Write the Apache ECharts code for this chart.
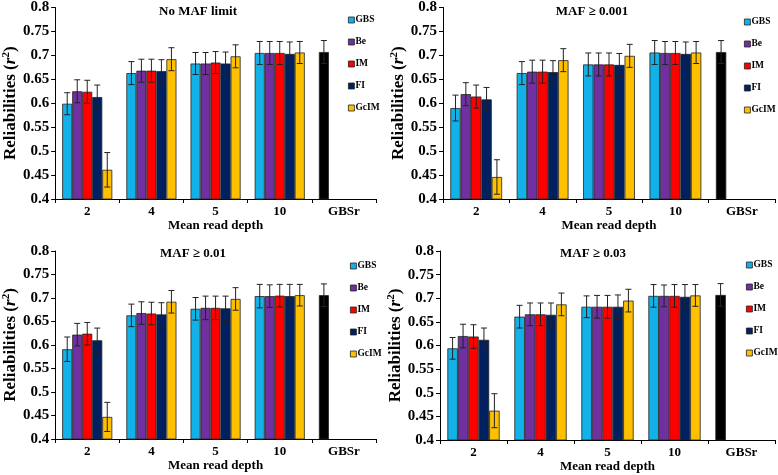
<!DOCTYPE html>
<html>
<head>
<meta charset="utf-8">
<script src="https://cdn.jsdelivr.net/npm/echarts@6/dist/echarts.min.js"></script>
<style>
html,body{margin:0;padding:0;background:#fff;}
#chart{width:778px;height:475px;}
</style>
</head>
<body>
<div id="chart"></div>
<script>
// ---------- data ----------
const categories = ['2', '4', '5', '10', 'GBSr'];
const seriesNames = ['GBS', 'Be', 'IM', 'FI', 'GcIM'];
const panelTitles = ['No MAF limit', 'MAF ≥ 0.001', 'MAF ≥ 0.01', 'MAF ≥ 0.03'];
const yTicks = [0.4, 0.45, 0.5, 0.55, 0.6, 0.65, 0.7, 0.75, 0.8];

// Panel 1: No MAF limit (last GBS value = GBSr)
const p1GBS  = [0.599, 0.663, 0.683, 0.705, 0.707];
const p1Be   = [0.625, 0.668, 0.683, 0.705, null];
const p1IM   = [0.624, 0.668, 0.685, 0.705, null];
const p1FI   = [0.613, 0.667, 0.683, 0.703, null];
const p1GcIM = [0.461, 0.692, 0.698, 0.706, null];
const p1ErrGBS  = [0.023, 0.024, 0.023, 0.024, 0.024];
const p1ErrBe   = [0.024, 0.024, 0.023, 0.024, null];
const p1ErrIM   = [0.024, 0.024, 0.023, 0.024, null];
const p1ErrFI   = [0.025, 0.024, 0.024, 0.025, null];
const p1ErrGcIM = [0.036, 0.024, 0.024, 0.023, null];

// Panel 2: MAF >= 0.001
const p2GBS  = [0.590, 0.663, 0.681, 0.706, 0.707];
const p2Be   = [0.619, 0.666, 0.681, 0.705, null];
const p2IM   = [0.614, 0.666, 0.681, 0.705, null];
const p2FI   = [0.608, 0.665, 0.680, 0.703, null];
const p2GcIM = [0.446, 0.690, 0.699, 0.706, null];
const p2ErrGBS  = [0.027, 0.024, 0.024, 0.025, 0.024];
const p2ErrBe   = [0.024, 0.024, 0.024, 0.024, null];
const p2ErrIM   = [0.024, 0.024, 0.024, 0.024, null];
const p2ErrFI   = [0.025, 0.024, 0.024, 0.025, null];
const p2ErrGcIM = [0.036, 0.024, 0.024, 0.023, null];

// Panel 3: MAF >= 0.01
const p3GBS  = [0.591, 0.663, 0.677, 0.704, 0.706];
const p3Be   = [0.622, 0.668, 0.679, 0.704, null];
const p3IM   = [0.624, 0.667, 0.679, 0.705, null];
const p3FI   = [0.610, 0.665, 0.678, 0.704, null];
const p3GcIM = [0.447, 0.692, 0.698, 0.706, null];
const p3ErrGBS  = [0.026, 0.024, 0.024, 0.025, 0.024];
const p3ErrBe   = [0.024, 0.024, 0.025, 0.024, null];
const p3ErrIM   = [0.024, 0.024, 0.025, 0.024, null];
const p3ErrFI   = [0.026, 0.025, 0.026, 0.025, null];
const p3ErrGcIM = [0.031, 0.024, 0.024, 0.023, null];

// Panel 4: MAF >= 0.03
const p4GBS  = [0.594, 0.661, 0.682, 0.705, 0.707];
const p4Be   = [0.620, 0.666, 0.682, 0.705, null];
const p4IM   = [0.619, 0.666, 0.682, 0.705, null];
const p4FI   = [0.612, 0.665, 0.682, 0.703, null];
const p4GcIM = [0.462, 0.687, 0.695, 0.706, null];
const p4ErrGBS  = [0.023, 0.024, 0.023, 0.024, 0.024];
const p4ErrBe   = [0.025, 0.024, 0.024, 0.023, null];
const p4ErrIM   = [0.025, 0.024, 0.024, 0.024, null];
const p4ErrFI   = [0.025, 0.025, 0.025, 0.026, null];
const p4ErrGcIM = [0.036, 0.024, 0.024, 0.023, null];

const panelValues = [
  [p1GBS, p1Be, p1IM, p1FI, p1GcIM],
  [p2GBS, p2Be, p2IM, p2FI, p2GcIM],
  [p3GBS, p3Be, p3IM, p3FI, p3GcIM],
  [p4GBS, p4Be, p4IM, p4FI, p4GcIM]
];
const panelErrors = [
  [p1ErrGBS, p1ErrBe, p1ErrIM, p1ErrFI, p1ErrGcIM],
  [p2ErrGBS, p2ErrBe, p2ErrIM, p2ErrFI, p2ErrGcIM],
  [p3ErrGBS, p3ErrBe, p3ErrIM, p3ErrFI, p3ErrGcIM],
  [p4ErrGBS, p4ErrBe, p4ErrIM, p4ErrFI, p4ErrGcIM]
];

// ---------- style / layout ----------
const colors = ['#12B2E8', '#7030A0', '#FF0000', '#002060', '#FFC000'];
const gbsrColor = '#000000';
const FONT = '"Liberation Serif", "Times New Roman", serif';
const grids = [
  {left: 48,  top: 7,   width: 328, height: 192},
  {left: 443, top: 7,   width: 332, height: 192},
  {left: 48,  top: 251, width: 328, height: 188},
  {left: 440, top: 251, width: 335, height: 189}
];
const titlePos = [
  {left: 193, top: 0}, {left: 587, top: 0},
  {left: 188, top: 242}, {left: 588, top: 242}
];
const legendPos = [
  {left: 343, top: 10}, {left: 739, top: 12},
  {left: 345, top: 256}, {left: 741, top: 255}
];
const CAT_GAP = 0.22;
const nS = seriesNames.length;

const option = {
  animation: false,
  backgroundColor: '#fff',
  title: [], grid: [], xAxis: [], yAxis: [], legend: [], series: []
};

for (let p = 0; p < 4; p++) {
  option.grid.push(grids[p]);
  option.title.push({
    text: panelTitles[p], left: titlePos[p].left, top: titlePos[p].top,
    textAlign: 'center',
    textStyle: {fontFamily: FONT, fontWeight: 'bold', fontSize: 13, color: '#000'}
  });
  option.xAxis.push({
    type: 'category', gridIndex: p, data: categories,
    name: 'Mean read depth', nameLocation: 'middle', nameGap: 18,
    nameTextStyle: {fontFamily: FONT, fontWeight: 'bold', fontSize: 13, color: '#000'},
    axisLine: {lineStyle: {color: '#000', width: 1}},
    axisTick: {show: true, length: 4, lineStyle: {color: '#000'}},
    axisLabel: {fontFamily: FONT, fontWeight: 'bold', fontSize: 13, color: '#000', margin: 6},
    splitLine: {show: false}
  });
  option.yAxis.push({
    type: 'value', gridIndex: p, min: 0.4, max: 0.8, interval: 0.05,
    name: '{b|Reliabilities (}{i|r}{s|2}{b|)}', nameLocation: 'middle', nameGap: 30,
    nameRotate: 90,
    nameTextStyle: {
      rich: {
        b: {fontFamily: FONT, fontWeight: 'bold', fontSize: 17, color: '#000'},
        i: {fontFamily: FONT, fontWeight: 'bold', fontStyle: 'italic', fontSize: 17, color: '#000'},
        s: {fontFamily: FONT, fontWeight: 'bold', fontSize: 11, color: '#000', verticalAlign: 'top', padding: [0, 0, 8, 0]}
      }
    },
    axisLine: {show: true, lineStyle: {color: '#000', width: 1}},
    axisTick: {show: true, length: 4, lineStyle: {color: '#000'}},
    axisLabel: {
      fontFamily: FONT, fontWeight: 'bold', fontSize: 15, color: '#000', margin: 6,
      formatter: function (v) {
        const t = yTicks.find(function (k) { return Math.abs(k - v) < 1e-9; });
        return t === undefined ? '' : String(t);
      }
    },
    splitLine: {show: false}
  });
  option.legend.push({
    data: seriesNames, orient: 'vertical',
    left: legendPos[p].left, top: legendPos[p].top,
    itemWidth: 6, itemHeight: 6, itemGap: 12, icon: 'rect',
    itemStyle: {borderColor: '#222', borderWidth: 0.8},
    textStyle: {fontFamily: FONT, fontWeight: 'bold', fontSize: 9.5, color: '#000', padding: [0, 0, 0, -4]}
  });

  for (let s = 0; s < nS; s++) {
    const vals = panelValues[p][s];
    const errs = panelErrors[p][s];
    option.series.push({
      type: 'bar', name: seriesNames[s], xAxisIndex: p, yAxisIndex: p,
      barGap: '0%', barCategoryGap: (CAT_GAP * 100) + '%',
      itemStyle: {color: colors[s], borderColor: '#222', borderWidth: 0.8},
      data: vals.map(function (v, i) {
        if (v === null) return '-';
        if (categories[i] === 'GBSr') return {value: v, itemStyle: {color: gbsrColor}};
        return v;
      })
    });
    const errData = [];
    vals.forEach(function (v, i) {
      if (v !== null && errs[i] !== null) errData.push([i, v, errs[i]]);
    });
    option.series.push({
      type: 'custom', name: 'err' + p + s, xAxisIndex: p, yAxisIndex: p, z: 5,
      silent: true,
      encode: {x: 0, y: 1},
      data: errData,
      renderItem: (function (sIdx) {
        return function (params, api) {
          const ci = api.value(0), v = api.value(1), e = api.value(2);
          const band = api.size([1, 0])[0];
          const groupW = band * (1 - CAT_GAP);
          const bw = groupW / nS;
          const c = api.coord([ci, v]);
          const x = c[0] - groupW / 2 + (sIdx + 0.5) * bw;
          const yt = api.coord([ci, v + e])[1];
          const yb = api.coord([ci, v - e])[1];
          const cap = 3;
          const st = {stroke: '#222', lineWidth: 1};
          return {
            type: 'group',
            children: [
              {type: 'line', shape: {x1: x, y1: yt, x2: x, y2: yb}, style: st},
              {type: 'line', shape: {x1: x - cap, y1: yt, x2: x + cap, y2: yt}, style: st},
              {type: 'line', shape: {x1: x - cap, y1: yb, x2: x + cap, y2: yb}, style: st}
            ]
          };
        };
      })(s)
    });
  }
}

const chart = echarts.init(document.getElementById('chart'), null, {renderer: 'canvas'});
chart.setOption(option);
</script>
</body>
</html>
